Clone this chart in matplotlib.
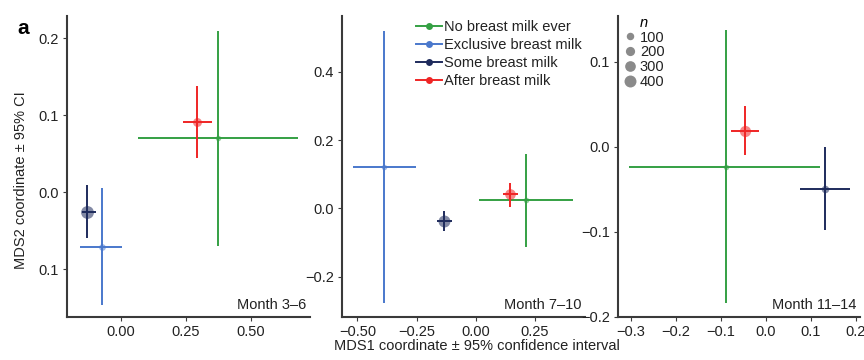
import matplotlib
matplotlib.use("Agg")
import matplotlib.pyplot as plt
from matplotlib.lines import Line2D
from matplotlib.ticker import FixedLocator, FixedFormatter
import numpy as np

plt.rcParams['font.family'] = ['Liberation Sans', 'DejaVu Sans']
plt.rcParams['font.size'] = 10.5

groups = ["No breast milk ever", "Exclusive breast milk", "Some breast milk", "After breast milk"]
colors = ["#34a043", "#4a78cc", "#1e2b5c", "#ef2525"]
panels = ["Month 3–6", "Month 7–10", "Month 11–14"]

# per panel values per group: centre, CI bounds, n
p1_x   = [0.375, -0.073, -0.128, 0.295]
p1_y   = [0.070, -0.071, -0.026, 0.091]
p1_xlo = [0.068, -0.157, -0.150, 0.241]
p1_xhi = [0.683,  0.005, -0.095, 0.350]
p1_ylo = [-0.070, -0.146, -0.060, 0.044]
p1_yhi = [0.210,  0.005,  0.010, 0.138]
p1_n   = [10, 60, 480, 180]

p2_x   = [0.212, -0.387, -0.134, 0.145]
p2_y   = [0.024,  0.120, -0.036, 0.041]
p2_xlo = [0.014, -0.517, -0.165, 0.116]
p2_xhi = [0.412, -0.254, -0.102, 0.180]
p2_ylo = [-0.112, -0.278, -0.066, 0.003]
p2_yhi = [0.159,  0.519, -0.007, 0.073]
p2_n   = [15, 10, 400, 300]

p3_x   = [-0.089, None, 0.132, -0.046]
p3_y   = [-0.024, None, -0.049, 0.0185]
p3_xlo = [-0.304, None, 0.076, -0.078]
p3_xhi = [0.122, None, 0.1875, -0.0145]
p3_ylo = [-0.184, None, -0.098, -0.010]
p3_yhi = [0.137, None, 0.000, 0.048]
p3_n   = [10, None, 100, 340]

size_legend_n = [100, 200, 300, 400]

xlims = [(-0.206, 0.728), (-0.565, 0.461), (-0.329, 0.21)]
ylims = [(-0.162, 0.229), (-0.318, 0.563), (-0.2, 0.154)]
xticks = [[0.0, 0.25, 0.5], [-0.5, -0.25, 0.0, 0.25], [-0.3, -0.2, -0.1, 0.0, 0.1, 0.2]]
xticklabels = [["0.00", "0.25", "0.50"], ["\u22120.50", "\u22120.25", "0.00", "0.25"],
               ["\u22120.3", "\u22120.2", "\u22120.1", "0.0", "0.1", "0.2"]]
yticks = [[-0.1, 0.0, 0.1, 0.2], [-0.2, 0.0, 0.2, 0.4], [-0.2, -0.1, 0.0, 0.1]]
yticklabels = [["0.1", "0.0", "0.1", "0.2"], ["\u22120.2", "0.0", "0.2", "0.4"],
               ["\u22120.2", "\u22120.1", "0.0", "0.1"]]

def msize(n):
    # marker diameter in points
    return np.sqrt(14 + 0.15 * n)

W, H = 864, 360
fig = plt.figure(figsize=(W / 100, H / 100), dpi=100)
boxes = [(67, 310), (342, 585), (618, 860)]
top, bottom = 16, 317

data = [
    (p1_x, p1_y, p1_xlo, p1_xhi, p1_ylo, p1_yhi, p1_n),
    (p2_x, p2_y, p2_xlo, p2_xhi, p2_ylo, p2_yhi, p2_n),
    (p3_x, p3_y, p3_xlo, p3_xhi, p3_ylo, p3_yhi, p3_n),
]
spine_col = "#3a3a3a"
axes = []
for i, (l, r) in enumerate(boxes):
    ax = fig.add_axes([l / W, (H - bottom) / H, (r - l) / W, (bottom - top) / H])
    axes.append(ax)
    xs, ys, xlo, xhi, ylo, yhi, ns = data[i]
    for g in range(4):
        if xs[g] is None:
            continue
        c = colors[g]
        ax.plot([xlo[g], xhi[g]], [ys[g], ys[g]], color=c, lw=1.4, solid_capstyle='butt', zorder=2)
        ax.plot([xs[g], xs[g]], [ylo[g], yhi[g]], color=c, lw=1.4, solid_capstyle='butt', zorder=2)
        ax.plot([xs[g]], [ys[g]], 'o', color=c, alpha=0.55, markersize=msize(ns[g]),
                markeredgewidth=0, zorder=3)
    ax.set_xlim(*xlims[i])
    ax.set_ylim(*ylims[i])
    ax.xaxis.set_major_locator(FixedLocator(xticks[i]))
    ax.xaxis.set_major_formatter(FixedFormatter(xticklabels[i]))
    ax.yaxis.set_major_locator(FixedLocator(yticks[i]))
    ax.yaxis.set_major_formatter(FixedFormatter(yticklabels[i]))
    for s in ["top", "right"]:
        ax.spines[s].set_visible(False)
    for s in ["left", "bottom"]:
        ax.spines[s].set_color(spine_col)
        ax.spines[s].set_linewidth(1.5)
    ax.tick_params(length=3, width=0.8, color=spine_col, labelcolor="#222222", labelsize=10.5, pad=3)
    ax.text(0.985, 0.015, panels[i], transform=ax.transAxes, ha='right', va='bottom',
            fontsize=10.5, color="#222222")

# group legend in panel 2
handles = [Line2D([0], [0], color=colors[g], lw=1.4, marker='o', markersize=5,
                  markeredgewidth=0) for g in range(4)]
leg = axes[1].legend(handles, groups, loc='upper left', bbox_to_anchor=(0.28, 1.005),
                     frameon=False, handlelength=1.8, handletextpad=0.15,
                     labelspacing=0.27, borderaxespad=0, fontsize=10.5)
for t in leg.get_texts():
    t.set_color("#222222")

# size legend in panel 3
sh = [Line2D([0], [0], linestyle='none', marker='o', color="#8a8a8a",
             markersize=msize(n), markeredgewidth=0) for n in size_legend_n]
leg2 = axes[2].legend(sh, [str(n) for n in size_legend_n], loc='upper left',
                      bbox_to_anchor=(0.0, 1.02), frameon=False, handlelength=0.9,
                      handletextpad=0.2, labelspacing=0.05, borderaxespad=0,
                      title="n", title_fontproperties={'style': 'italic', 'size': 10.5},
                      fontsize=10.5)
for t in leg2.get_texts():
    t.set_color("#222222")

fig.text(0.024, 0.5, "MDS2 coordinate \u00b1 95% CI", rotation=90, ha='center', va='center',
         fontsize=10.5, color="#222222")
fig.text(477 / W, 0.040, "MDS1 coordinate \u00b1 95% confidence interval", ha='center',
         va='center', fontsize=10.5, color="#222222")
fig.text(23 / W, 1 - 28 / H, "a", ha='center', va='center', fontsize=15, fontweight='bold')

fig.savefig("out.png", dpi=100)
